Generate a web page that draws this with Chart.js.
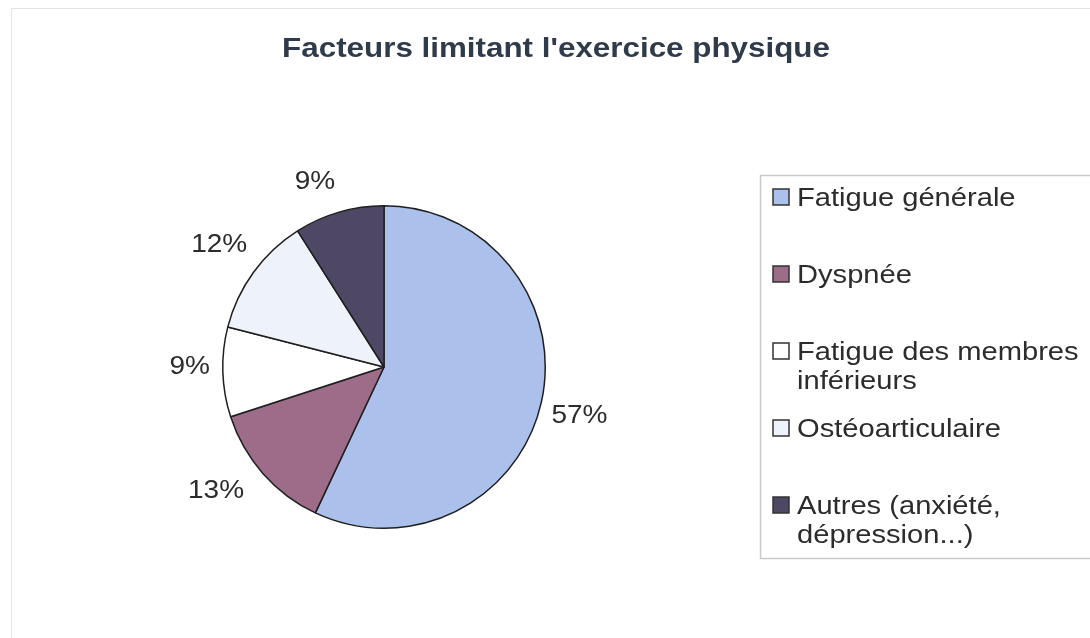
<!DOCTYPE html>
<html>
<head>
<meta charset="utf-8">
<script src="https://cdn.jsdelivr.net/npm/chart.js@4/dist/chart.umd.min.js"></script>
<style>
  html, body { margin: 0; padding: 0; background: #ffffff; }
  #wrap { width: 1090px; height: 638px; position: relative; }
</style>
</head>
<body>
<div id="wrap"><canvas id="c" width="1090" height="638"></canvas></div>
<script>
const chartTitle = "Facteurs limitant l'exercice physique";
const categories = [
  "Fatigue générale",
  "Dyspnée",
  "Fatigue des membres inférieurs",
  "Ostéoarticulaire",
  "Autres (anxiété, dépression...)"
];
const values = [57, 13, 9, 12, 9];
const valueLabels = ["57%", "13%", "9%", "12%", "9%"];

const sliceColors = ["#abc0eb", "#9d6c89", "#ffffff", "#eef2fb", "#4f4864"];
const labelNudge = [[-1, 7], [-17, 2], [-1, -8], [-2, -17], [-15, -12]];
const SX = 1.12;
const FONT = "'Liberation Sans', Arial, Helvetica, sans-serif";

function stretchedText(ctx, text, x, y, align) {
  ctx.save();
  ctx.translate(x, y);
  ctx.scale(SX, 1);
  ctx.textAlign = align;
  ctx.textBaseline = 'alphabetic';
  ctx.fillText(text, 0, 0);
  ctx.restore();
}

const decorPlugin = {
  id: 'decor',
  beforeDraw(chart) {
    const ctx = chart.ctx;
    ctx.save();
    ctx.strokeStyle = '#e4e4e4';
    ctx.lineWidth = 1;
    ctx.strokeRect(11.5, 8.5, 1100, 700);
    ctx.fillStyle = '#2f3a4b';
    ctx.font = 'bold 28px ' + FONT;
    stretchedText(ctx, chartTitle, 556, 57, 'center');
    ctx.restore();
  },
  afterDraw(chart) {
    const ctx = chart.ctx;
    const meta = chart.getDatasetMeta(0);
    const labels = chart.data.labels;
    const ds = chart.data.datasets[0];
    ctx.save();
    ctx.fillStyle = '#2c2c2c';
    const fs = 25;
    ctx.font = fs + 'px ' + FONT;
    meta.data.forEach((arc, i) => {
      const mid = (arc.startAngle + arc.endAngle) / 2;
      const r = arc.outerRadius + 12;
      const cos = Math.cos(mid), sin = Math.sin(mid);
      const txt = valueLabels[i];
      const w = ctx.measureText(txt).width * SX;
      const h = fs * 0.716;
      const cx = arc.x + r * cos + cos * w / 2 + labelNudge[i][0];
      const cy = arc.y + r * sin + sin * h / 2 + labelNudge[i][1];
      stretchedText(ctx, txt, cx, cy + h / 2, 'center');
    });
    ctx.strokeStyle = '#c9c9c9';
    ctx.lineWidth = 1.5;
    ctx.strokeRect(760.5, 175.5, 400, 383);
    const lfs = 26;
    ctx.font = lfs + 'px ' + FONT;
    const textX = 797, maxW = 292;
    labels.forEach((lab, i) => {
      const base = 206 + i * 77;
      ctx.fillStyle = ds.backgroundColor[i];
      ctx.fillRect(773, base - 17, 16, 16);
      ctx.strokeStyle = '#333333';
      ctx.lineWidth = 1.5;
      ctx.strokeRect(773, base - 17, 16, 16);
      const words = lab.split(' ');
      const lines = [];
      let cur = '';
      words.forEach(wd => {
        const test = cur ? cur + ' ' + wd : wd;
        if (cur && ctx.measureText(test).width * SX > maxW) { lines.push(cur); cur = wd; }
        else cur = test;
      });
      if (cur) lines.push(cur);
      ctx.fillStyle = '#2c2c2c';
      lines.forEach((ln, k) => stretchedText(ctx, ln, textX, base + k * 29, 'left'));
    });
    ctx.restore();
  }
};

new Chart(document.getElementById('c'), {
  type: 'pie',
  data: {
    labels: categories,
    datasets: [{
      data: values,
      backgroundColor: sliceColors,
      borderColor: '#1f1f1f',
      borderWidth: 1.5
    }]
  },
  options: {
    responsive: false,
    animation: false,
    layout: { padding: { left: 222, right: 544, top: 205, bottom: 109 } },
    plugins: {
      legend: { display: false },
      title: { display: false },
      tooltip: { enabled: false }
    }
  },
  plugins: [decorPlugin]
});
</script>
</body>
</html>
